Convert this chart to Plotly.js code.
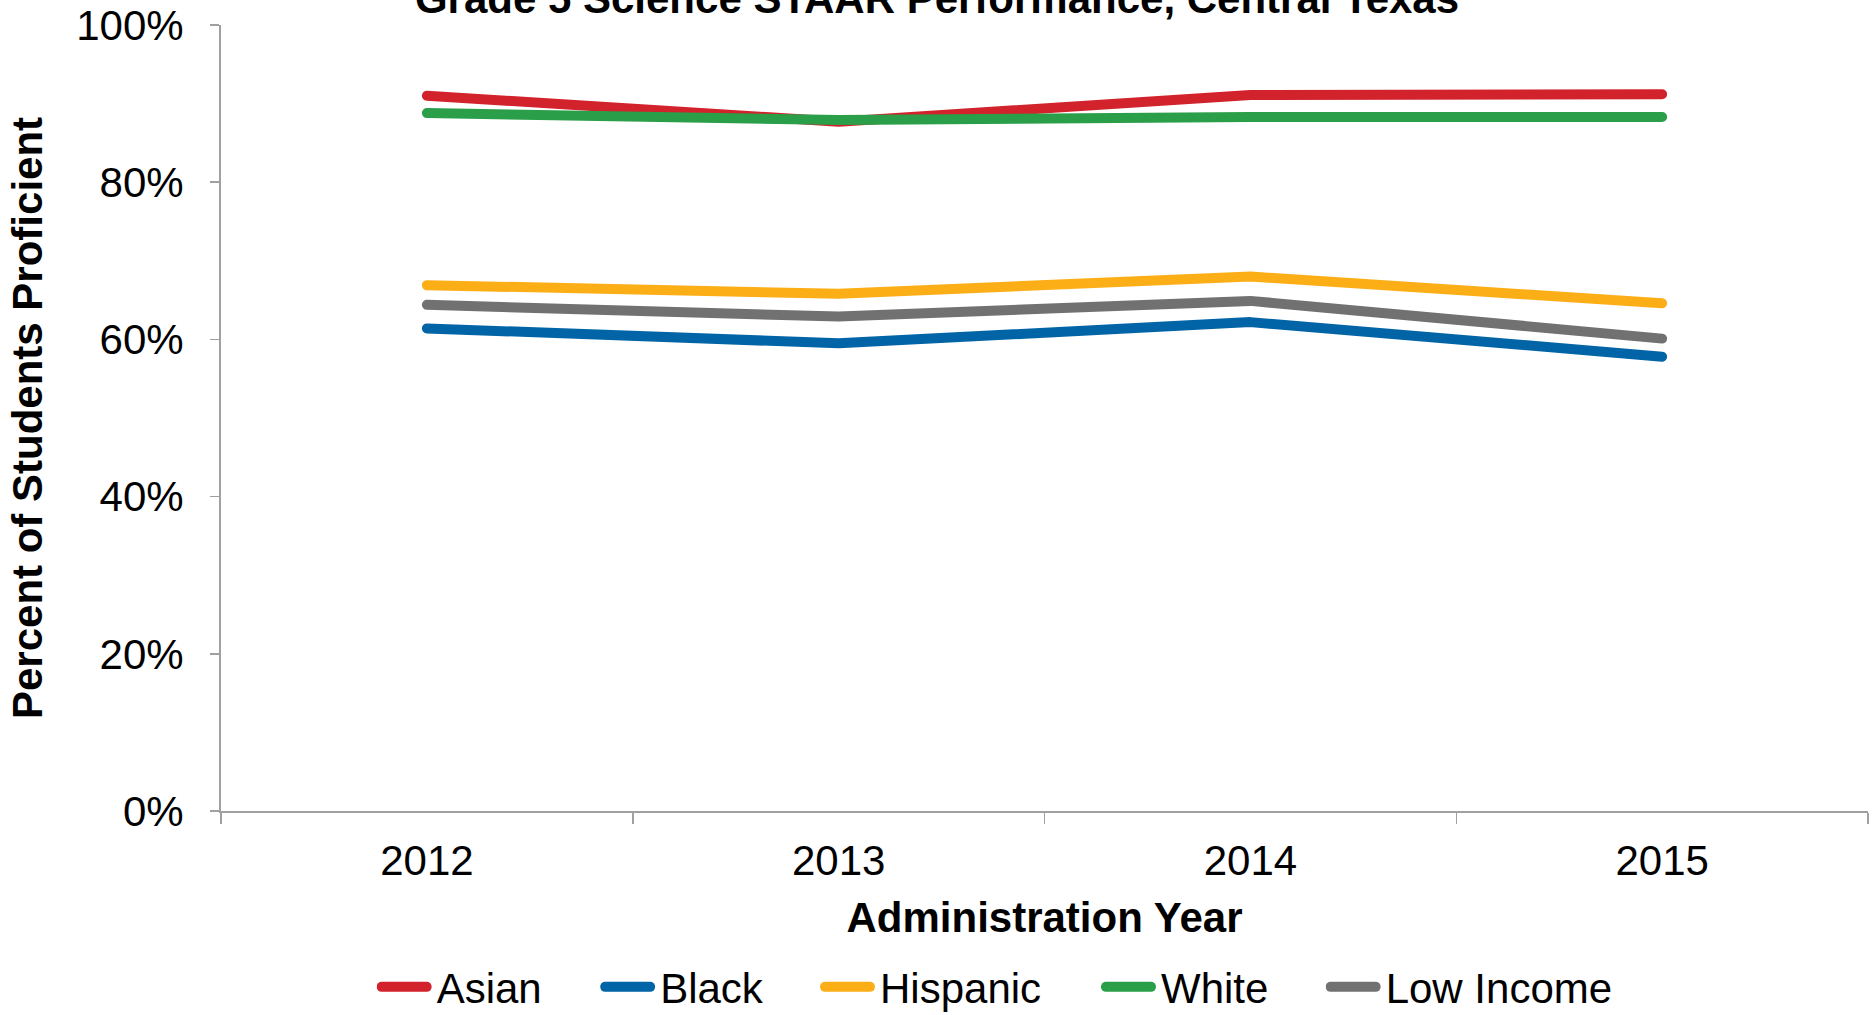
<!DOCTYPE html>
<html>
<head>
<meta charset="utf-8">
<script src="https://cdn.plot.ly/plotly-3.0.1.min.js"></script>
<style>
html,body{margin:0;padding:0;background:#fff;}
#chart{width:1874px;height:1015px;}
#chart .scatterlayer path.js-line, #chart .legendlines path{stroke-linecap:round;stroke-linejoin:round;}
#chart .legendlines path{d:path("M5,0h45");}
</style>
</head>
<body>
<div id="chart"></div>
<script>
const years = ['2012', '2013', '2014', '2015'];
const seriesNames = ['Asian', 'Black', 'Hispanic', 'White', 'Low Income'];
const asian = [91.0, 87.7, 91.1, 91.2];
const black = [61.4, 59.5, 62.2, 57.8];
const hispanic = [66.9, 65.8, 68.0, 64.6];
const white = [88.8, 87.9, 88.3, 88.3];
const lowIncome = [64.4, 62.9, 64.9, 60.1];
const colors = ['#D2222B', '#0064A6', '#FCAE17', '#2A9E48', '#717171'];
const yTicks = [0, 20, 40, 60, 80, 100];
const yTickLabels = ['0%', '20%', '40%', '60%', '80%', '100%'];

const values = [asian, black, hispanic, white, lowIncome];
const font = 'Liberation Sans, Arial, sans-serif';
const legendIds = ['legend', 'legend2', 'legend3', 'legend4', 'legend5'];
const legendX = [0.0945, 0.2302, 0.3637, 0.5343, 0.6707];
const traces = seriesNames.map((n, i) => ({
  type: 'scatter', mode: 'lines', name: n, x: years, y: values[i],
  line: {color: colors[i], width: 10}, legend: legendIds[i]
}));

const layout = {
  width: 1874, height: 1015,
  margin: {l: 221, r: 6, t: 25, b: 204, autoexpand: false},
  paper_bgcolor: '#fff', plot_bgcolor: '#fff',
  font: {family: font, size: 42, color: '#000'},
  title: {text: '<b>Grade 5 Science STAAR Performance, Central Texas</b>', font: {size: 42, family: font},
    x: 0.5, xref: 'container', y: 1, yref: 'paper', yanchor: 'bottom', pad: {b: 12}},
  xaxis: {type: 'category', range: [-0.5, 3.5], showgrid: false, zeroline: false,
    showline: true, linecolor: '#A0A0A0', linewidth: 2,
    ticks: 'outside', tickson: 'boundaries', ticklen: 11, tickcolor: '#A0A0A0', tickwidth: 1.5,
    tickfont: {size: 42}, ticklabelstandoff: 12,
    title: {text: '<b>Administration Year</b>', font: {size: 42}, standoff: 19}},
  yaxis: {range: [0, 100], tickvals: yTicks, ticktext: yTickLabels, showgrid: false, zeroline: false,
    showline: true, linecolor: '#A0A0A0', linewidth: 2,
    ticks: 'outside', ticklen: 9, tickcolor: '#A0A0A0', tickwidth: 1.5,
    tickfont: {size: 42}, ticklabelstandoff: 18,
    title: {text: '<b>Percent of Students Proficient</b>', font: {size: 42}, standoff: 20}},
  showlegend: true
};
legendIds.forEach((id, i) => {
  layout[id] = {orientation: 'h', x: legendX[i], xanchor: 'left', y: -0.224, yanchor: 'middle',
    font: {size: 42}, itemwidth: 50, bgcolor: 'rgba(0,0,0,0)'};
});
Plotly.newPlot('chart', traces, layout, {displayModeBar: false, staticPlot: true});
</script>
</body>
</html>
